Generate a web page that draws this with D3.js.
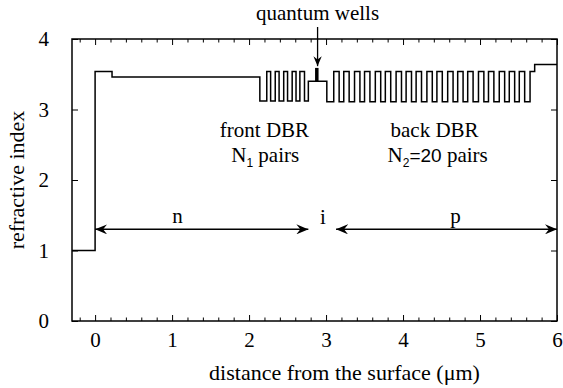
<!DOCTYPE html>
<html><head><meta charset="utf-8">
<script src="https://cdn.jsdelivr.net/npm/d3@7/dist/d3.min.js"></script>
<style>
body{margin:0;background:#fff;}
text{font-family:"Liberation Serif","Times New Roman",serif;fill:#000;}
</style></head>
<body><svg id="c" width="563" height="388"></svg>
<script>
// layer left edges (µm) and refractive index of each layer
const layerX = [-0.3, 0, 0.22, 2.14,
  2.23, 2.28, 2.34, 2.39, 2.45, 2.50, 2.56, 2.61, 2.66, 2.72,
  2.77, 3.01,
  3.10, 3.17, 3.23, 3.30, 3.37, 3.44, 3.50, 3.57, 3.64, 3.71,
  3.77, 3.84, 3.91, 3.98, 4.04, 4.11, 4.17, 4.24, 4.31, 4.38,
  4.44, 4.51, 4.58, 4.65, 4.71, 4.78, 4.84, 4.91, 4.98, 5.05,
  5.11, 5.18, 5.25, 5.32, 5.38, 5.45, 5.51, 5.58, 5.65, 5.71];
const layerN = [1.0, 3.54, 3.46, 3.12,
  3.54, 3.12, 3.54, 3.12, 3.54, 3.12, 3.54, 3.12, 3.54, 3.12,
  3.40, 3.11,
  3.54, 3.11, 3.54, 3.11, 3.54, 3.11, 3.54, 3.11, 3.54, 3.11,
  3.54, 3.11, 3.54, 3.11, 3.54, 3.11, 3.54, 3.11, 3.54, 3.11,
  3.54, 3.11, 3.54, 3.11, 3.54, 3.11, 3.54, 3.11, 3.54, 3.11,
  3.54, 3.11, 3.54, 3.11, 3.54, 3.11, 3.54, 3.11, 3.54, 3.64];
const profileEnd = 6.0;
const wellX = 2.88, wellN = [3.40, 3.59];
const xTicks = [0, 1, 2, 3, 4, 5, 6];
const xMinor = [-0.2, 0.2, 0.4, 0.6, 0.8, 1.2, 1.4, 1.6, 1.8, 2.2, 2.4, 2.6, 2.8, 3.2, 3.4, 3.6, 3.8, 4.2, 4.4, 4.6, 4.8, 5.2, 5.4, 5.6, 5.8];
const yTicks = [0, 1, 2, 3, 4];
const arrowN = {y: 1.30, from: 0, to: 2.77};
const arrowP = {y: 1.30, from: 3.13, to: 6.0};

const svg = d3.select("#c");
const L = 72, R = 557, T = 39, B = 321;
const FS = 21;
const x = d3.scaleLinear().domain([-0.3, 6]).range([L, R]);
const y = d3.scaleLinear().domain([0, 4]).range([B, T]);

// axes
const fmt = d => d;
const gB = svg.append("g").attr("transform", `translate(0,${B})`)
  .call(d3.axisBottom(x).tickValues(xTicks).tickSize(-6).tickPadding(11).tickFormat(fmt));
const gBm = svg.append("g").attr("transform", `translate(0,${B})`)
  .call(d3.axisBottom(x).tickValues(xMinor).tickSize(-3.5).tickFormat(""));
const gT = svg.append("g").attr("transform", `translate(0,${T})`)
  .call(d3.axisTop(x).tickValues(xTicks).tickSize(-6).tickFormat(""));
const gTm = svg.append("g").attr("transform", `translate(0,${T})`)
  .call(d3.axisTop(x).tickValues(xMinor).tickSize(-3.5).tickFormat(""));
const gL = svg.append("g").attr("transform", `translate(${L},0)`)
  .call(d3.axisLeft(y).tickValues(yTicks).tickSize(-6).tickPadding(23).tickFormat(fmt));
const gR = svg.append("g").attr("transform", `translate(${R},0)`)
  .call(d3.axisRight(y).tickValues(yTicks).tickSize(-6).tickFormat(""));
[gB, gBm, gT, gTm, gL, gR].forEach(g => {
  g.attr("font-family", null).attr("font-size", null);
  g.select(".domain").remove();
  g.selectAll("line").attr("stroke", "#000").attr("stroke-width", 1);
  g.selectAll("text").style("font-family", '"Liberation Serif",serif').style("font-size", FS + "px");
});
svg.append("rect").attr("x", L).attr("y", T).attr("width", R - L).attr("height", B - T)
  .attr("fill", "none").attr("stroke", "#000").attr("stroke-width", 1.5);

// profile
const pts = layerX.map((v, i) => [v, layerN[i]]);
pts.push([profileEnd, layerN[layerN.length - 1]]);
svg.append("path").datum(pts)
  .attr("d", d3.line().x(d => x(d[0])).y(d => y(d[1])).curve(d3.curveStepAfter))
  .attr("fill", "none").attr("stroke", "#000").attr("stroke-width", 1.5);

// quantum well
svg.append("line").attr("x1", x(wellX)).attr("x2", x(wellX))
  .attr("y1", y(wellN[0])).attr("y2", y(wellN[1]))
  .attr("stroke", "#000").attr("stroke-width", 3.5);

// arrow markers
const defs = svg.append("defs");
defs.append("marker").attr("id", "ah").attr("viewBox", "0 0 12 10")
  .attr("refX", 12).attr("refY", 5).attr("markerWidth", 12).attr("markerHeight", 10)
  .attr("markerUnits", "userSpaceOnUse").attr("orient", "auto-start-reverse")
  .append("path").attr("d", "M0,0 L12,5 L0,10 L4,5 Z").attr("fill", "#000");
defs.append("marker").attr("id", "ahs").attr("viewBox", "0 0 12 10")
  .attr("refX", 12).attr("refY", 5).attr("markerWidth", 10).attr("markerHeight", 9)
  .attr("markerUnits", "userSpaceOnUse").attr("orient", "auto")
  .append("path").attr("d", "M0,0 L12,5 L0,10 L4,5 Z").attr("fill", "#000");

[arrowN, arrowP].forEach(a => {
  svg.append("line").attr("x1", x(a.from)).attr("x2", x(a.to))
    .attr("y1", y(a.y)).attr("y2", y(a.y))
    .attr("stroke", "#000").attr("stroke-width", 1.5)
    .attr("marker-start", "url(#ah)").attr("marker-end", "url(#ah)");
});
// QW arrow
svg.append("line").attr("x1", x(2.89)).attr("x2", x(2.89))
  .attr("y1", 27).attr("y2", y(3.60) - 1)
  .attr("stroke", "#000").attr("stroke-width", 1.3).attr("marker-end", "url(#ahs)");

// labels
const txt = (t, px, py, anchor = "middle", size = FS) =>
  svg.append("text").attr("x", px).attr("y", py).attr("text-anchor", anchor)
    .style("font-size", size + "px").text(t);
txt("quantum wells", x(2.89), 20);
txt("n", x(1.07), 223);
txt("i", x(2.96), 224);
txt("p", x(4.68), 223);
txt("front DBR", x(2.20), 137);

const n1 = svg.append("text").attr("x", x(2.21)).attr("y", 162).attr("text-anchor", "middle").style("font-size", FS + "px");
n1.append("tspan").text("N");
n1.append("tspan").attr("dy", 5).style("font-size", "12px").style("font-family", '"Liberation Sans",sans-serif').text("1");
n1.append("tspan").attr("dy", -5).text(" pairs");

txt("back DBR", x(4.41), 137);
const n2 = svg.append("text").attr("x", x(4.45)).attr("y", 162).attr("text-anchor", "middle").style("font-size", FS + "px");
n2.append("tspan").text("N");
n2.append("tspan").attr("dy", 5).style("font-size", "12px").style("font-family", '"Liberation Sans",sans-serif').text("2");
n2.append("tspan").attr("dy", -5).style("font-family", '"Liberation Sans",sans-serif').style("font-size", "19px").text("=20");
n2.append("tspan").text(" pairs");

txt("distance from the surface (μm)", (L + R) / 2 + 30, 380, "middle", 22);
svg.append("text").attr("transform", `translate(24,${(T + B) / 2}) rotate(-90)`)
  .attr("text-anchor", "middle").style("font-size", "22px").text("refractive index");
</script></body></html>
